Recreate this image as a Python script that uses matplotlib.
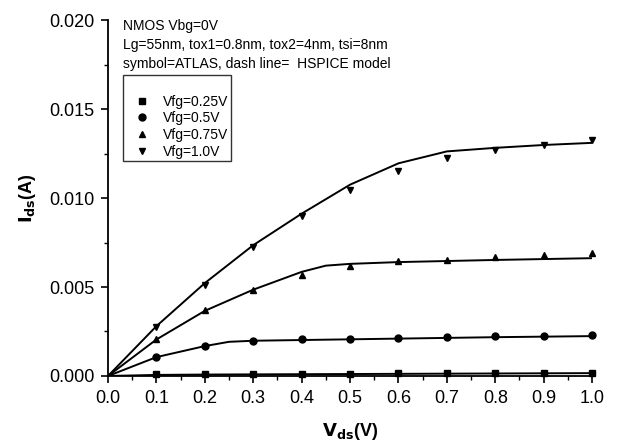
import matplotlib
matplotlib.use("Agg")
import matplotlib.pyplot as plt
from matplotlib.ticker import MultipleLocator, FormatStrFormatter

plt.rcParams["font.family"] = ["Liberation Sans", "DejaVu Sans"]

# ATLAS symbols
vds_sym = [0.1, 0.2, 0.3, 0.4, 0.5, 0.6, 0.7, 0.8, 0.9, 1.0]
ids_sym_025 = [0.00012, 0.00012, 0.00013, 0.00013, 0.00013, 0.00014, 0.00014, 0.00014, 0.00014, 0.00015]
ids_sym_050 = [0.00106, 0.00168, 0.00198, 0.00205, 0.00209, 0.00216, 0.00218, 0.00222, 0.00226, 0.00228]
ids_sym_075 = [0.00205, 0.00368, 0.00485, 0.00565, 0.00616, 0.00644, 0.00653, 0.00668, 0.00681, 0.00690]
ids_sym_100 = [0.00274, 0.00513, 0.00722, 0.00900, 0.01047, 0.01154, 0.01223, 0.01272, 0.01300, 0.01325]

# HSPICE model lines
vds_025 = [0.0, 0.1, 0.2, 0.4, 0.6, 0.8, 1.0]
ids_025 = [0.0, 0.00006, 0.00008, 0.00010, 0.00012, 0.00014, 0.00016]
vds_050 = [0.0, 0.1, 0.2, 0.25, 0.3, 0.4, 0.6, 0.8, 1.0]
ids_050 = [0.0, 0.00106, 0.00168, 0.00192, 0.00198, 0.00202, 0.00210, 0.00218, 0.00224]
vds_075 = [0.0, 0.1, 0.2, 0.3, 0.4, 0.45, 0.5, 0.6, 0.8, 1.0]
ids_075 = [0.0, 0.00205, 0.00366, 0.00485, 0.00585, 0.00620, 0.00630, 0.00640, 0.00652, 0.00662]
vds_100 = [0.0, 0.1, 0.2, 0.3, 0.4, 0.5, 0.6, 0.7, 0.8, 0.9, 1.0]
ids_100 = [0.0, 0.00280, 0.00522, 0.00735, 0.00912, 0.01075, 0.01195, 0.01262, 0.01282, 0.01298, 0.01310]

labels = ["Vfg=0.25V", "Vfg=0.5V", "Vfg=0.75V", "Vfg=1.0V"]
markers = ["s", "o", "^", "v"]

fig = plt.figure(figsize=(6.19, 4.46), dpi=100)
ax = fig.add_axes([0.1745, 0.157, 0.782, 0.798])

sym_sets = [ids_sym_025, ids_sym_050, ids_sym_075, ids_sym_100]
line_sets = [(vds_025, ids_025), (vds_050, ids_050), (vds_075, ids_075), (vds_100, ids_100)]

for (vx, vy) in line_sets:
    ax.plot(vx, vy, color="black", lw=1.4, zorder=2)

handles = []
for ys, m, lbl in zip(sym_sets, markers, labels):
    h, = ax.plot(vds_sym, ys, linestyle="none", marker=m, color="black",
                 markersize=5, label=lbl, zorder=3, clip_on=False)
    handles.append(h)

ax.set_xlim(0, 1.0)
ax.set_ylim(0, 0.020)
ax.xaxis.set_major_locator(MultipleLocator(0.1))
ax.xaxis.set_minor_locator(MultipleLocator(0.05))
ax.yaxis.set_major_locator(MultipleLocator(0.005))
ax.yaxis.set_minor_locator(MultipleLocator(0.0025))
ax.xaxis.set_major_formatter(FormatStrFormatter("%.1f"))
ax.yaxis.set_major_formatter(FormatStrFormatter("%.3f"))
for s in ("top", "right"):
    ax.spines[s].set_visible(False)
for s in ("left", "bottom"):
    ax.spines[s].set_linewidth(1.3)
ax.tick_params(which="major", direction="out", length=5, width=1.2, labelsize=13, pad=5)
ax.tick_params(which="minor", direction="out", length=3, width=1.0)

ax.set_xlabel(r"$\mathbf{V_{ds}}$(V)", fontsize=13, fontweight="bold", labelpad=10)
ax.set_ylabel(r"$\mathbf{I_{ds}}$(A)", fontsize=13, fontweight="bold", labelpad=8)

ax.text(0.031, 0.982, "NMOS Vbg=0V", transform=ax.transAxes, fontsize=10, va="center")
ax.text(0.031, 0.929, "Lg=55nm, tox1=0.8nm, tox2=4nm, tsi=8nm", transform=ax.transAxes,
        fontsize=10, va="center")
ax.text(0.031, 0.877, "symbol=ATLAS, dash line=  HSPICE model", transform=ax.transAxes,
        fontsize=10, va="center")

leg = ax.legend(handles=handles, loc="upper left", bbox_to_anchor=(0.031, 0.845),
                borderaxespad=0, fontsize=10, title=" ", title_fontsize=10,
                frameon=True, fancybox=False, handlelength=2.4, handletextpad=0.25,
                labelspacing=0.19, borderpad=0.2)
leg.get_frame().set_edgecolor("black")
leg.get_frame().set_linewidth(1.0)

fig.savefig("out.png", dpi=100)
